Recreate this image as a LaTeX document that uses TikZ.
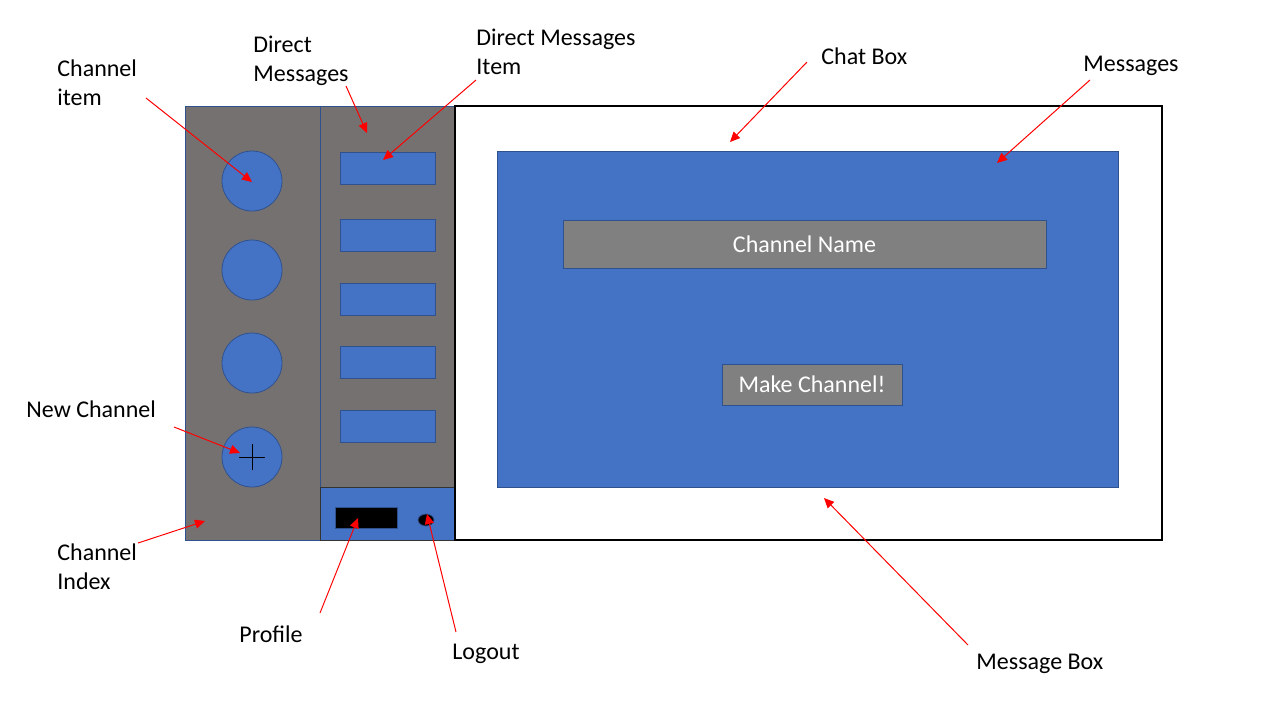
\documentclass[tikz,border=0pt]{standalone}
\usepackage{fontspec}
\setmainfont{Carlito}
\usetikzlibrary{arrows.meta,shapes.geometric}
\definecolor{panelgray}{HTML}{767171}
\definecolor{uiblue}{HTML}{4472C4}
\definecolor{uiborder}{HTML}{2F528F}
\definecolor{btngray}{HTML}{808080}
\tikzset{
  lbl/.style={font=\fontsize{12pt}{14.5pt}\selectfont, inner sep=0pt, align=left, anchor=west},
  panel/.style={draw=uiborder, fill=panelgray, line width=0.5pt},
  bluebox/.style={draw=uiborder, fill=uiblue, line width=0.4pt, inner sep=0pt},
  graybtn/.style={draw=uiborder, fill=btngray, line width=0.4pt, inner sep=0pt, text=white, font=\fontsize{12pt}{14.5pt}\selectfont},
  chan/.style={circle, draw=uiborder, fill=uiblue, line width=0.4pt, minimum size=30pt, inner sep=0pt},
  dmitem/.style={rectangle, draw=uiborder, fill=uiblue, line width=0.4pt, minimum width=47.5pt, minimum height=16pt, inner sep=0pt},
  arr/.style={draw=red, line width=0.5pt, -{Triangle[length=5pt,width=4.5pt]}},
}
\begin{document}
\begin{tikzpicture}[x=0.5pt,y=-0.5pt]
\useasboundingbox[fill=white] (0,0) rectangle (1280,720);
% panels
\path[panel] (185,106) rectangle (320,540);
\path[panel] (320,106) rectangle (455,487);
\path[draw=black!80, fill=uiblue, line width=0.5pt] (320,487) rectangle (455,540);
\draw[black, line width=0.6pt] (455,106) rectangle (1162,540);
\node[bluebox, minimum width=310.5pt, minimum height=168pt] (msgs) at (807.5,319) {};
\node[graybtn, minimum width=241.5pt, minimum height=24pt] (cname) at (804.5,244) {Channel Name};
\node[graybtn, minimum width=90pt, minimum height=20.5pt] (mkch) at (812,384.5) {Make Channel!};
% channel items
\node[chan] (c1) at (252,181) {};
\node[chan] (c2) at (252,270) {};
\node[chan] (c3) at (252,363) {};
\node[chan] (c4) at (252,457) {};
\draw[black, line width=0.5pt] (239,457) -- (265,457) (252,444) -- (252,470);
% dm items
\node[dmitem] (d1) at (387.5,168) {};
\node[dmitem] (d2) at (387.5,235) {};
\node[dmitem] (d3) at (387.5,299) {};
\node[dmitem] (d4) at (387.5,362) {};
\node[dmitem] (d5) at (387.5,426.5) {};
% profile & logout
\node[rectangle, draw=uiborder, fill=black, minimum width=31pt, minimum height=10.5pt, inner sep=0pt, line width=0.4pt] (prof) at (366,517.5) {};
\node[ellipse, draw=uiborder, fill=black, minimum width=8pt, minimum height=6pt, inner sep=0pt, line width=0.4pt] (logout) at (426,520) {};
% labels
\node[lbl] (lchan) at (57,82.5) {Channel\\item};
\node[lbl] (ldm) at (253,60.5) {Direct\\Messages};
\node[lbl] (ldmi) at (476,51.5) {Direct Messages\\Item};
\node[lbl] (lchat) at (821,56) {Chat Box};
\node[lbl] (lmsgs) at (1083,66) {Messages};
\node[lbl] (lnew) at (26,409) {New Channel};
\node[lbl] (lidx) at (57,566.5) {Channel\\Index};
\node[lbl] (lprof) at (239,634) {Profile};
\node[lbl] (llog) at (452,654) {Logout};
\node[lbl] (lmbox) at (976,664) {Message Box};
% arrow start / end points
\coordinate (s1) at (146,98);   \coordinate (e1) at (252,182);
\coordinate (s2) at (346,86);   \coordinate (e2) at (367,133);
\coordinate (s3) at (476,80);   \coordinate (e3) at (383,160);
\coordinate (s4) at (807,62);   \coordinate (e4) at (730,142);
\coordinate (s5) at (1090,80);  \coordinate (e5) at (997,163);
\coordinate (s6) at (174,427);  \coordinate (e6) at (240,453);
\coordinate (s7) at (138,543);  \coordinate (e7) at (205,521);
\coordinate (s8) at (320,613);  \coordinate (e8) at (358,518);
\coordinate (s9) at (456,632);  \coordinate (e9) at (427,514);
\coordinate (s10) at (968,645); \coordinate (e10) at (824,498);
\draw[arr] (s1) -- (e1);
\draw[arr] (s2) -- (e2);
\draw[arr] (s3) -- (e3);
\draw[arr] (s4) -- (e4);
\draw[arr] (s5) -- (e5);
\draw[arr] (s6) -- (e6);
\draw[arr] (s7) -- (e7);
\draw[arr] (s8) -- (e8);
\draw[arr] (s9) -- (e9);
\draw[arr] (s10) -- (e10);
\end{tikzpicture}
\end{document}
